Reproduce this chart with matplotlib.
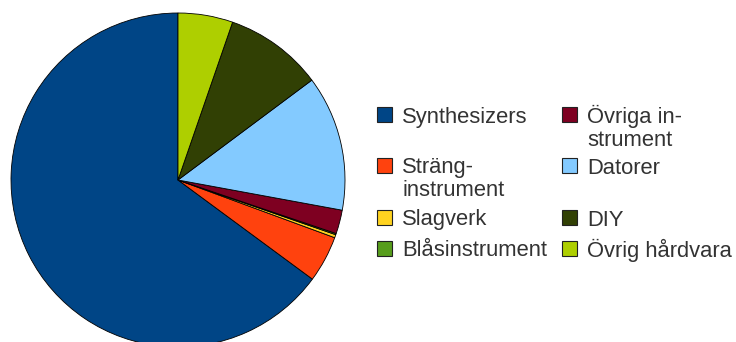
import matplotlib.pyplot as plt
from matplotlib.patches import Rectangle

# slice shares in percent, in drawing order (counterclockwise from 12 o'clock)
categories = ['Synthesizers', 'Sträng-\ninstrument', 'Slagverk', 'Blåsinstrument',
              'Övriga in-\nstrument', 'Datorer', 'DIY', 'Övrig hårdvara']
shares = [64.9, 4.5, 0.3, 0.12, 2.3, 13.1, 9.5, 5.3]
colors = ['#004586', '#ff420e', '#ffd320', '#579d1c',
          '#7e0021', '#83caff', '#314004', '#aecf00']

W, H = 736, 342
fig = plt.figure(figsize=(W / 100, H / 100), dpi=100)

# pie: centre (178, 180) px from top-left, radius 167 px
cx, cy, r = 178, 180, 167
ax = fig.add_axes([(cx - r) / W, (H - cy - r) / H, 2 * r / W, 2 * r / H])
ax.pie(shares, colors=colors, startangle=90, counterclock=True,
       wedgeprops=dict(edgecolor='black', linewidth=0.6))
ax.set_xlim(-1, 1)
ax.set_ylim(-1, 1)
ax.set_aspect('equal')

# legend drawn by hand so rows line up like the original
col_x = [377, 562]
row_top = [107, 158, 210, 241]
order = [(0, 0), (0, 1), (0, 2), (0, 3), (1, 0), (1, 1), (1, 2), (1, 3)]
box = 15
for (c, rw), lab, col in zip(order, categories, colors):
    x0 = col_x[c]
    y0 = row_top[rw]
    fig.add_artist(Rectangle((x0 / W, 1 - (y0 + box) / H), box / W, box / H,
                             transform=fig.transFigure, facecolor=col,
                             edgecolor='#222222', linewidth=0.8))
    for i, line in enumerate(lab.split('\n')):
        fig.text((x0 + 25) / W, 1 - (y0 + 15.5 + i * 23) / H, line,
                 family='Liberation Sans', fontsize=15.8, color='#333333',
                 va='baseline', ha='left')

fig.savefig('out.png', dpi=100)
